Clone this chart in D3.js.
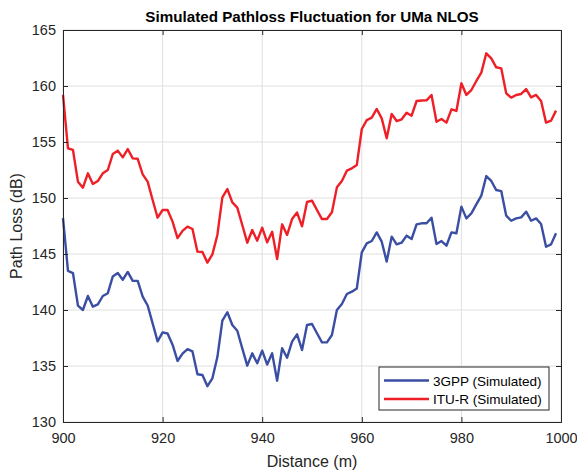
<!DOCTYPE html>
<html><head><meta charset="utf-8">
<script src="https://cdn.jsdelivr.net/npm/d3@7/dist/d3.min.js"></script>
<style>body{margin:0;background:#fff;}svg{display:block;font-family:"Liberation Sans",Arial,sans-serif;}</style>
</head><body>
<script>
const distanceStart = 900;
const gpp3 = [148.2,143.5,143.3,140.4,140.0,141.25,140.3,140.5,141.25,141.5,143.0,143.3,142.7,143.4,142.6,142.6,141.2,140.4,138.8,137.2,138.0,137.9,136.9,135.45,136.1,136.5,136.3,134.26,134.2,133.2,133.9,135.8,139.05,139.8,138.66,138.15,136.58,135.03,136.13,135.24,136.37,135.13,136.13,133.69,136.58,135.74,137.17,137.83,136.43,138.66,138.75,137.92,137.11,137.11,137.77,140.0,140.54,141.43,141.64,141.93,145.15,145.95,146.16,146.93,146.1,144.32,146.55,145.86,146.01,146.64,146.34,147.65,147.74,147.74,148.24,145.9,146.16,145.74,146.93,146.85,149.23,148.18,148.63,149.43,150.21,151.96,151.52,150.71,150.62,148.42,147.97,148.18,148.27,148.78,147.97,148.18,147.68,145.65,145.86,146.85];
const itur = [159.2,154.44,154.29,151.46,150.92,152.2,151.25,151.52,152.2,152.5,153.93,154.23,153.63,154.37,153.54,153.5,152.11,151.46,149.82,148.24,148.93,148.93,147.89,146.42,147.06,147.44,147.23,145.21,145.18,144.23,144.97,146.7,150.06,150.8,149.61,149.14,147.59,146.01,147.14,146.19,147.35,146.04,146.99,144.55,147.65,146.7,148.12,148.7,147.47,149.64,149.76,148.93,148.12,148.12,148.72,150.95,151.52,152.44,152.65,152.95,156.16,156.96,157.17,157.95,157.11,155.33,157.5,156.87,157.03,157.62,157.35,158.66,158.7,158.72,159.2,156.81,157.05,156.73,157.92,157.77,160.24,159.2,159.64,160.45,161.19,162.92,162.47,161.67,161.58,159.35,158.96,159.2,159.29,159.73,158.99,159.2,158.66,156.73,156.9,157.8];
const distances = gpp3.map((_, i) => distanceStart + i);
const xTicks = [900, 920, 940, 960, 980, 1000];
const yTicks = [130, 135, 140, 145, 150, 155, 160, 165];
const seriesNames = ["3GPP (Simulated)", "ITU-R (Simulated)"];
const seriesColors = ["#3a4ea3", "#ee1f26"];

const W = 577, H = 473;
const m = {l: 63, r: 16, t: 30, b: 51};
const svg = d3.select("body").append("svg").attr("width", W).attr("height", H);
const x = d3.scaleLinear().domain([900, 1000]).range([m.l, W - m.r]);
const y = d3.scaleLinear().domain([130, 165]).range([H - m.b, m.t]);
const axisCol = "#262626";

// grid
svg.append("g").selectAll("line.gx").data(xTicks).join("line")
  .attr("x1", d => x(d)).attr("x2", d => x(d)).attr("y1", m.t).attr("y2", H - m.b)
  .attr("stroke", "#dfdfdf").attr("stroke-width", 1);
svg.append("g").selectAll("line.gy").data(yTicks).join("line")
  .attr("y1", d => y(d)).attr("y2", d => y(d)).attr("x1", m.l).attr("x2", W - m.r)
  .attr("stroke", "#dfdfdf").attr("stroke-width", 1);

// lines
const line = d3.line().x((d, i) => x(distances[i])).y(d => y(d));
[gpp3, itur].forEach((s, k) => {
  svg.append("path").datum(s).attr("d", line).attr("fill", "none")
    .attr("stroke", seriesColors[k]).attr("stroke-width", 2.4).attr("stroke-linejoin", "round");
});

// axes
const xAx = svg.append("g").attr("transform", `translate(0,${H - m.b})`)
  .call(d3.axisBottom(x).tickValues(xTicks).tickSize(-5).tickPadding(11).tickFormat(d3.format("d")));
const xAxTop = svg.append("g").attr("transform", `translate(0,${m.t})`)
  .call(d3.axisTop(x).tickValues(xTicks).tickSize(-5).tickFormat(""));
const yAx = svg.append("g").attr("transform", `translate(${m.l},0)`)
  .call(d3.axisLeft(y).tickValues(yTicks).tickSize(-5).tickPadding(7));
const yAxR = svg.append("g").attr("transform", `translate(${W - m.r},0)`)
  .call(d3.axisRight(y).tickValues(yTicks).tickSize(-5).tickFormat(""));
[xAx, xAxTop, yAx, yAxR].forEach(g => {
  g.select(".domain").attr("stroke", axisCol).attr("stroke-width", 1);
  g.selectAll(".tick line").attr("stroke", axisCol);
  g.selectAll(".tick text").attr("fill", axisCol).style("font-size", "14.5px")
    .style("font-family", "'Liberation Sans', Arial, sans-serif");
});

// title & labels
svg.append("text").attr("x", (m.l + W - m.r) / 2).attr("y", 22).attr("text-anchor", "middle")
  .style("font-size", "15.2px").style("font-weight", "bold").attr("fill", "#000")
  .text("Simulated Pathloss Fluctuation for UMa NLOS");
svg.append("text").attr("x", (m.l + W - m.r) / 2).attr("y", 467).attr("text-anchor", "middle")
  .style("font-size", "16px").attr("fill", axisCol).text("Distance (m)");
svg.append("text").attr("transform", `translate(22,${(m.t + H - m.b) / 2}) rotate(-90)`)
  .attr("text-anchor", "middle").style("font-size", "16px").attr("fill", axisCol).text("Path Loss (dB)");

// legend
const lg = svg.append("g").attr("transform", "translate(379,367)");
lg.append("rect").attr("width", 170).attr("height", 43).attr("fill", "#fff")
  .attr("stroke", axisCol).attr("stroke-width", 1);
seriesNames.forEach((n, k) => {
  const yy = 13.5 + k * 18.5;
  lg.append("line").attr("x1", 5).attr("x2", 50).attr("y1", yy).attr("y2", yy)
    .attr("stroke", seriesColors[k]).attr("stroke-width", 2.4);
  lg.append("text").attr("x", 54).attr("y", yy + 5).style("font-size", "13.5px")
    .attr("fill", "#000").text(n);
});
</script>
</body></html>
